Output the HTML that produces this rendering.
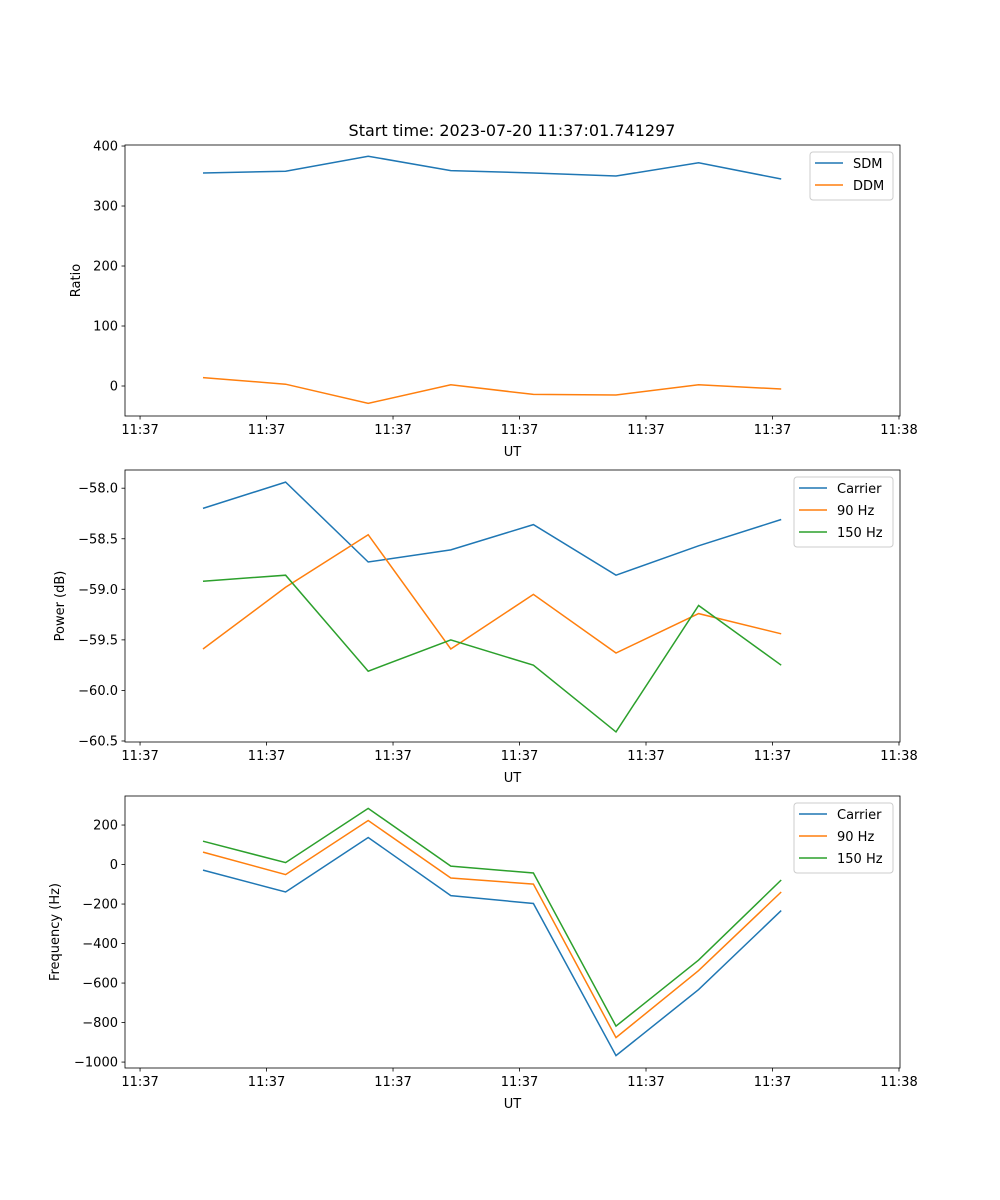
<!DOCTYPE html>
<html><head><meta charset="utf-8"><style>
body{margin:0;background:#fff}
svg{display:block;font-family:"DejaVu Sans","Liberation Sans",sans-serif}
</style></head><body>
<svg id="fig" width="1000" height="1200"></svg>
<script>
// data (time in seconds after 11:37:00)
const times = [4.98, 11.51, 18.04, 24.57, 31.10, 37.63, 44.16, 50.69];
const xTicks = [0, 10, 20, 30, 40, 50, 60];
const xTickLabels = ["11:37","11:37","11:37","11:37","11:37","11:37","11:38"];
const sdm = [355, 358, 383, 359, 355, 350, 372, 345];
const ddm = [14, 3, -29, 2, -14, -15, 2, -5];
const powCarrier = [-58.20, -57.94, -58.73, -58.61, -58.36, -58.86, -58.57, -58.31];
const pow90 = [-59.59, -58.98, -58.46, -59.59, -59.05, -59.63, -59.24, -59.44];
const pow150 = [-58.92, -58.86, -59.81, -59.50, -59.75, -60.41, -59.16, -59.75];
const freqCarrier = [-28, -139, 137, -157, -197, -967, -633, -233];
const freq90 = [63, -51, 223, -68, -99, -876, -537, -139];
const freq150 = [118, 10, 284, -8, -43, -818, -484, -78];
const ticks1 = [0, 100, 200, 300, 400];
const ticks2 = [-60.5, -60.0, -59.5, -59.0, -58.5, -58.0];
const ticks3 = [-1000, -800, -600, -400, -200, 0, 200];

const NS = "http://www.w3.org/2000/svg";
const svg = document.getElementById("fig");
function mk(tag, attrs, parent, text){
  const e = document.createElementNS(NS, tag);
  for (const k in attrs) e.setAttribute(k, attrs[k]);
  if (text !== undefined) e.textContent = text;
  (parent || svg).appendChild(e);
  return e;
}
const L = 125, R = 900;
const xmin = -1.19, xmax = 60.08;
const xs = t => L + (t - xmin) / (xmax - xmin) * (R - L);
const C = {blue:"#1f77b4", orange:"#ff7f0e", green:"#2ca02c"};

function panel(name, top, bot, ymin, ymax, yticks, fmt, ylabel, ylabX, series, leg){
  const g = mk("g", {});
  
  
  const ys = v => bot - (v - ymin) / (ymax - ymin) * (bot - top);
  series.forEach(s => {
    const pts = s.vals.map((v, i) => xs(times[i]).toFixed(1) + "," + ys(v).toFixed(1)).join(" ");
    const p = mk("polyline", {points: pts, fill: "none", stroke: s.color, "stroke-width": 1.5}, g);
    
    
  });
  const fr = mk("rect", {x: L, y: top, width: R - L, height: bot - top, fill: "none", stroke: "#000", "stroke-width": 0.8}, g);
  
  
  xTicks.forEach((t, i) => {
    const x = xs(t);
    mk("line", {x1: x, x2: x, y1: bot, y2: bot + 3.5, stroke: "#000", "stroke-width": 0.8}, g);
    const tl = mk("text", {x: x, y: bot + 18, "font-size": 13, "text-anchor": "middle"}, g, xTickLabels[i]);
    
    
  });
  yticks.forEach(v => {
    const y = ys(v);
    mk("line", {x1: L, x2: L - 3.5, y1: y, y2: y, stroke: "#000", "stroke-width": 0.8}, g);
    const tl = mk("text", {x: L - 7, y: y + 4.5, "font-size": 13, "text-anchor": "end"}, g, fmt(v));
    
    
  });
  const xl = mk("text", {x: (L + R) / 2, y: bot + 40, "font-size": 13, "text-anchor": "middle"}, g, "UT");
  
  
  const cy = (top + bot) / 2;
  const yl = mk("text", {x: ylabX, y: cy, "font-size": 13, "text-anchor": "middle", transform: `rotate(-90 ${ylabX} ${cy})`}, g, ylabel);
  
  
  const lg = mk("g", {}, g);
  
  
  mk("rect", {x: leg.x, y: top + 7, width: R - 7 - leg.x, height: 22 * series.length + 4, rx: 3, fill: "#fff", "fill-opacity": 0.8, stroke: "#ccc"}, lg);
  series.forEach((s, i) => {
    const y = top + 18 + i * 22;
    mk("line", {x1: leg.x + 5, x2: leg.x + 33, y1: y, y2: y, stroke: s.color, "stroke-width": 1.5}, lg);
    const t = mk("text", {x: leg.x + 43, y: y + 5, "font-size": 13}, lg, s.label);
    
    
  });
}
const m = v => (v < 0 ? "\u2212" + Math.abs(v) : "" + v);
const m1 = v => (v < 0 ? "\u2212" + Math.abs(v).toFixed(1) : v.toFixed(1));
const tt = mk("text", {x: 512, y: 136, "font-size": 16, "text-anchor": "middle"}, svg, "Start time: 2023-07-20 11:37:01.741297");


panel("ratio-panel", 145, 416, -50, 401.7, ticks1, m, "Ratio", 80,
  [{id:"sdm-line", vals: sdm, color: C.blue, label: "SDM"}, {id:"ddm-line", vals: ddm, color: C.orange, label: "DDM"}], {x: 810});
panel("power-panel", 470, 742, -60.51, -57.82, ticks2, m1, "Power (dB)", 64,
  [{id:"carrier-power-line", vals: powCarrier, color: C.blue, label: "Carrier"}, {id:"90hz-power-line", vals: pow90, color: C.orange, label: "90 Hz"}, {id:"150hz-power-line", vals: pow150, color: C.green, label: "150 Hz"}], {x: 794});
panel("frequency-panel", 796, 1068, -1030, 347, ticks3, m, "Frequency (Hz)", 59,
  [{id:"carrier-freq-line", vals: freqCarrier, color: C.blue, label: "Carrier"}, {id:"90hz-freq-line", vals: freq90, color: C.orange, label: "90 Hz"}, {id:"150hz-freq-line", vals: freq150, color: C.green, label: "150 Hz"}], {x: 794});
</script>
</body></html>
